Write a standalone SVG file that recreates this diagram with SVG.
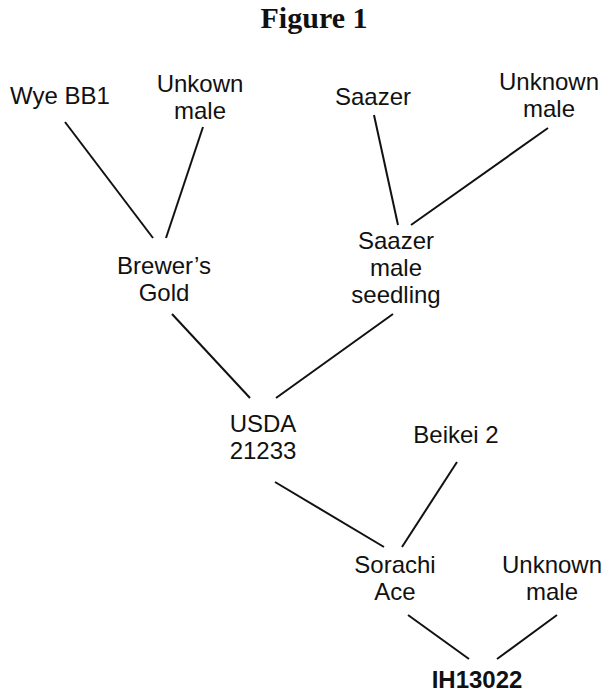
<svg xmlns="http://www.w3.org/2000/svg" width="612" height="700" viewBox="0 0 612 700">
<style>
.t{font-family:"Liberation Sans",Arial,sans-serif;font-size:24px;fill:#111;text-anchor:middle}
.b{font-weight:bold}
.title{font-family:"Liberation Serif","Times New Roman",serif;font-size:30px;font-weight:bold;fill:#111;text-anchor:middle}
.c line{stroke:#111;stroke-width:2;fill:none}
</style>
<rect width="612" height="700" fill="#fff"/>
<text class="title" x="314" y="28">Figure 1</text>
<g id="wye"><text class="t" x="60" y="104">Wye BB1</text></g>
<g id="unkown1"><text class="t" x="200" y="92">Unkown</text><text class="t" x="200" y="119">male</text></g>
<g id="saazer"><text class="t" x="373" y="105">Saazer</text></g>
<g id="unknown2"><text class="t" x="549" y="90">Unknown</text><text class="t" x="549" y="117">male</text></g>
<g id="brewers"><text class="t" x="164" y="274">Brewer’s</text><text class="t" x="164" y="301">Gold</text></g>
<g id="seedling"><text class="t" x="396" y="249">Saazer</text><text class="t" x="396" y="276">male</text><text class="t" x="396" y="303">seedling</text></g>
<g id="usda"><text class="t" x="263" y="432">USDA</text><text class="t" x="263" y="459">21233</text></g>
<g id="beikei"><text class="t" x="456" y="443">Beikei 2</text></g>
<g id="sorachi"><text class="t" x="395" y="573">Sorachi</text><text class="t" x="395" y="600">Ace</text></g>
<g id="unknown3"><text class="t" x="552" y="573">Unknown</text><text class="t" x="552" y="600">male</text></g>
<g id="ih"><text class="t b" x="477" y="688">IH13022</text></g>
<g class="c" id="connectors">
<line x1="65" y1="122" x2="153" y2="238"/>
<line x1="203" y1="127" x2="166" y2="238"/>
<line x1="374" y1="115" x2="398" y2="225"/>
<line x1="548" y1="128" x2="411" y2="225"/>
<line x1="172" y1="314" x2="250" y2="398"/>
<line x1="393" y1="314" x2="276" y2="398"/>
<line x1="275" y1="482" x2="384" y2="547"/>
<line x1="457" y1="462" x2="402" y2="547"/>
<line x1="408" y1="615" x2="469" y2="659"/>
<line x1="557" y1="615" x2="497" y2="659"/>
</g>
</svg>
